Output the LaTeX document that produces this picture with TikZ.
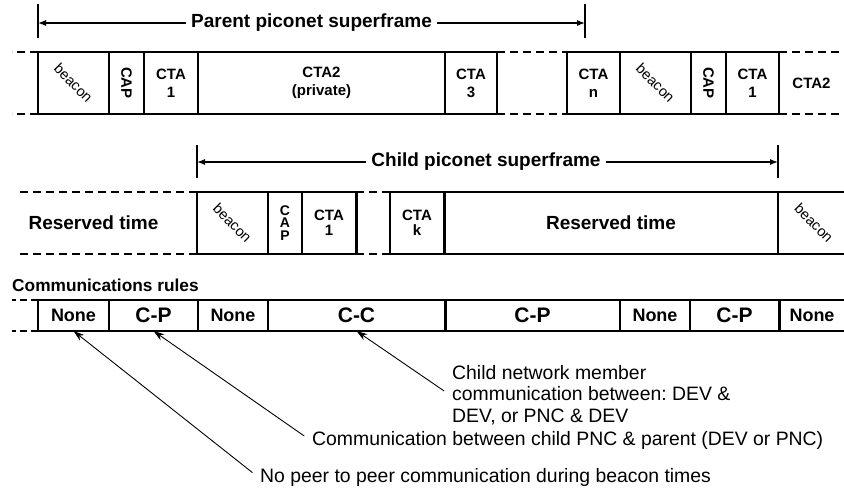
\documentclass[tikz,border=0pt]{standalone}
\usepackage{fontspec}
\setmainfont{Liberation Sans}
\usetikzlibrary{arrows.meta}
\frenchspacing

\begin{document}
\begin{tikzpicture}[x=1pt, y=-1pt,
    slot/.style={draw, line width=1.6pt, inner sep=0pt, outer sep=0pt, minimum height=62pt, align=center, font=\fontsize{15}{18}\selectfont\bfseries},
    beaconslot/.style={slot, font=\fontsize{14.5}{18}\selectfont},
    rule/.style={draw, line width=1.6pt, inner sep=0pt, outer sep=0pt, minimum height=31pt, font=\fontsize{18}{20}\selectfont\bfseries},
    gap/.style={line width=1.6pt, dash pattern=on 8pt off 5pt},
    span/.style={line width=1.2pt},
    heading/.style={font=\fontsize{19}{22}\selectfont\bfseries, inner sep=5pt},
    note/.style={anchor=west, align=left, inner sep=2pt, font=\fontsize{19.4}{21.5}\selectfont},
    pointer/.style={line width=0.9pt, -{Stealth[length=11pt, width=7pt]}, shorten <=7pt}]
  \useasboundingbox (0,0) rectangle (844,494);

  % Parent piconet superframe
  \node[beaconslot, minimum width=71pt] (pbeacon) at (73.5,83) {\rotatebox{-45}{beacon}};
  \node[slot, minimum width=35pt] (pcap) at (126.5,83) {\rotatebox{-90}{CAP}};
  \node[slot, minimum width=54pt] (pcta1) at (171,83) {CTA\\1};
  \node[slot, minimum width=247pt] (pcta2) at (321.5,83) {CTA2\\(private)};
  \node[slot, minimum width=52pt] (pcta3) at (471,83) {CTA\\3};
  \node[slot, minimum width=53pt] (pctan) at (593.5,83) {CTA\\n};
  \node[beaconslot, minimum width=71pt] (pbeaconb) at (655.5,83) {\rotatebox{-45}{beacon}};
  \node[slot, minimum width=35pt] (pcapb) at (708.5,83) {\rotatebox{-90}{CAP}};
  \node[slot, minimum width=53pt] (pcta1b) at (752.5,83) {CTA\\1};
  \node[slot, draw=none, minimum width=65pt] (pcta2b) at (811.5,83) {CTA2};

  \draw[gap] (pbeacon.north west) -- ++(-26,0);
  \draw[gap] (pbeacon.south west) -- ++(-26,0);
  \draw[gap] (pcta3.north east) -- (pctan.north west);
  \draw[gap] (pcta3.south east) -- (pctan.south west);
  \draw[gap] (pcta1b.north east) -- (pcta2b.north east);
  \draw[gap] (pcta1b.south east) -- (pcta2b.south east);

  \node[heading] (ptitle) at (311.5,23) {Parent piconet superframe};
  \coordinate (pstart) at (38,23);
  \coordinate (pend) at (585,23);
  \draw[span] (38,4) -- (38,38);
  \draw[span] (585,4) -- (585,38);
  \draw[span, -{Latex[length=8pt, width=6pt]}] (ptitle) -- (pstart);
  \draw[span, -{Latex[length=8pt, width=6pt]}] (ptitle) -- (pend);

  % Child piconet superframe
  \node[slot, draw=none, font=\fontsize{19}{22}\selectfont\bfseries] (cres) at (93.5,223) {Reserved time};
  \node[beaconslot, minimum width=71pt] (cbeacon) at (232.5,223) {\rotatebox{-45}{beacon}};
  \node[slot, minimum width=34pt, font=\fontsize{14}{12.5}\selectfont\bfseries] (ccap) at (285,223) {C\\A\\P};
  \node[slot, minimum width=54pt, font=\fontsize{15}{15}\selectfont\bfseries] (ccta1) at (329,223) {CTA\\1};
  \node[slot, minimum width=54pt, font=\fontsize{15}{15}\selectfont\bfseries] (cctak) at (417,223) {CTA\\k};
  \node[slot, minimum width=334pt, font=\fontsize{19}{22}\selectfont\bfseries] (cresb) at (611,223) {Reserved time};
  \node[beaconslot, minimum width=72pt] (cbeaconb) at (814,223) {\rotatebox{-45}{beacon}};

  \draw[line width=3pt] (ccta1.north east) -- (ccta1.south east);
  \draw[line width=3pt] (cresb.north west) -- (cresb.south west);
  \draw[gap] (cbeacon.north west) -- ++(-177,0);
  \draw[gap] (cbeacon.south west) -- ++(-177,0);
  \draw[gap] (ccta1.north east) -- (cctak.north west);
  \draw[gap] (ccta1.south east) -- (cctak.south west);

  \node[heading] (ctitle) at (486,162) {Child piconet superframe};
  \coordinate (cstart) at (197,162);
  \coordinate (cend) at (778,162);
  \draw[span] (197,145) -- (197,178);
  \draw[span] (778,145) -- (778,178);
  \draw[span, -{Latex[length=8pt, width=6pt]}] (ctitle) -- (cstart);
  \draw[span, -{Latex[length=8pt, width=6pt]}] (ctitle) -- (cend);

  % Communications rules
  \node[anchor=west, inner sep=0pt, font=\fontsize{17.3}{18}\selectfont\bfseries] (rtitle) at (12,285) {Communications rules};
  \node[rule, minimum width=71pt] (rnone) at (73.5,315.5) {None};
  \node[rule, minimum width=89pt, font=\fontsize{21}{22}\selectfont\bfseries] (rcp) at (153.5,315.5) {C-P};
  \node[rule, minimum width=70pt] (rnoneb) at (233,315.5) {None};
  \node[rule, minimum width=177pt, font=\fontsize{21}{22}\selectfont\bfseries] (rcc) at (356.5,315.5) {C-C};
  \node[rule, minimum width=175pt, font=\fontsize{21}{22}\selectfont\bfseries] (rcpb) at (532.5,315.5) {C-P};
  \node[rule, minimum width=70pt] (rnonec) at (655,315.5) {None};
  \node[rule, minimum width=89pt, font=\fontsize{21}{22}\selectfont\bfseries] (rcpc) at (734.5,315.5) {C-P};
  \node[rule, minimum width=66pt] (rnoned) at (812,315.5) {None};

  \draw[line width=3pt] (rcpb.north west) -- (rcpb.south west);
  \draw[line width=3pt] (rnoned.north west) -- (rnoned.south west);
  \draw[gap, dash pattern=on 7pt off 4pt] (rnone.north west) -- ++(-26,0);
  \draw[gap, dash pattern=on 7pt off 4pt] (rnone.south west) -- ++(-26,0);

  % Notes
  \node[note] (ncc) at (450,395) {Child network member\\communication between: DEV \&\\DEV, or PNC \& DEV};
  \node[note] (ncp) at (310,440) {Communication between child PNC \& parent (DEV or PNC)};
  \node[note] (nnone) at (258,477) {No peer to peer communication during beacon times};

  \draw[pointer] (ncc.west) -- (rcc.south);
  \draw[pointer] (ncp.west) -- (rcp.south);
  \draw[pointer] (nnone.west) -- (rnone.south);
\end{tikzpicture}
\end{document}
